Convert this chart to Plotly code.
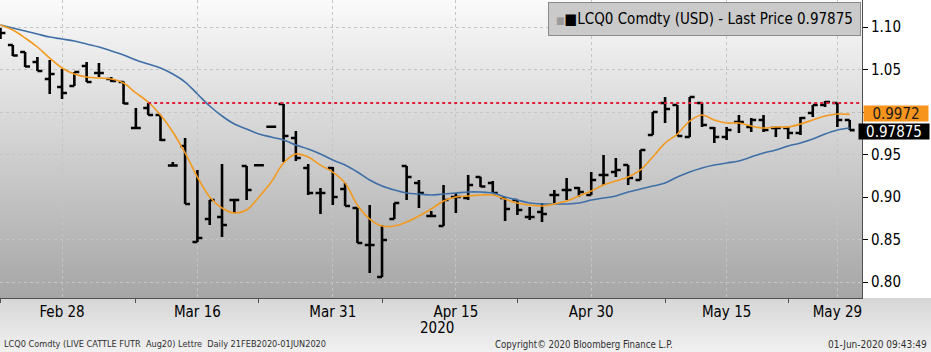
import base64
import struct
import zlib
import plotly.graph_objects as go

# ---------------- data ----------------
dates = [
    "2020-02-21", "2020-02-24", "2020-02-25", "2020-02-26", "2020-02-27", "2020-02-28",
    "2020-03-02", "2020-03-03", "2020-03-04", "2020-03-05", "2020-03-06",
    "2020-03-09", "2020-03-10", "2020-03-11", "2020-03-12", "2020-03-13",
    "2020-03-16", "2020-03-17", "2020-03-18", "2020-03-19", "2020-03-20",
    "2020-03-23", "2020-03-24", "2020-03-25", "2020-03-26", "2020-03-27",
    "2020-03-30", "2020-03-31", "2020-04-01", "2020-04-02", "2020-04-03",
    "2020-04-06", "2020-04-07", "2020-04-08", "2020-04-09",
    "2020-04-13", "2020-04-14", "2020-04-15", "2020-04-16", "2020-04-17",
    "2020-04-20", "2020-04-21", "2020-04-22", "2020-04-23", "2020-04-24",
    "2020-04-27", "2020-04-28", "2020-04-29", "2020-04-30", "2020-05-01",
    "2020-05-04", "2020-05-05", "2020-05-06", "2020-05-07", "2020-05-08",
    "2020-05-11", "2020-05-12", "2020-05-13", "2020-05-14", "2020-05-15",
    "2020-05-18", "2020-05-19", "2020-05-20", "2020-05-21", "2020-05-22",
    "2020-05-26", "2020-05-27", "2020-05-28", "2020-05-29", "2020-06-01",
]

open_ = [1.0976, 1.0788, 1.0706, 1.0588, 1.0388, 1.0294, 1.0306, 1.0541, 1.0459, 1.0388,
         1.0353, 0.9812, 1.0047, 0.9965, 0.9371, 0.9600, 0.8471, 0.8741, 0.8765, 0.8965,
         0.9365, 0.9373, 0.9827, 1.0094, 0.9694, 0.9341, 0.9047, 0.9341, 0.9094, 0.8871,
         0.8435, 0.8059, 0.8741, 0.9365, 0.9165, 0.8776, 0.8659, 0.9000, 0.8988, 0.9235,
         0.9165, 0.8988, 0.8965, 0.8765, 0.8824, 0.9024, 0.9082, 0.9106, 0.9024, 0.9259,
         0.9294, 0.9376, 0.9200, 0.9729, 1.0106, 1.0082, 0.9706, 1.0106, 0.9812, 0.9706,
         0.9882, 0.9824, 0.9906, 0.9812, 0.9812, 0.9753, 0.9988, 1.0082, 1.0106, 0.9906]
high = [1.0990, 1.0788, 1.0706, 1.0647, 1.0612, 1.0506, 1.0471, 1.0588, 1.0576, 1.0412,
        1.0359, 1.0047, 1.0106, 0.9965, 0.9412, 0.9694, 0.9318, 0.8965, 0.9388, 0.8965,
        0.9365, 0.9373, 0.9827, 1.0094, 0.9776, 0.9388, 0.9106, 0.9353, 0.9165, 0.8871,
        0.8906, 0.8671, 0.8929, 0.9365, 0.9200, 0.8835, 0.9141, 0.9047, 0.9259, 0.9239,
        0.9188, 0.8988, 0.8965, 0.8882, 0.8929, 0.9082, 0.9224, 0.9118, 0.9294, 0.9494,
        0.9459, 0.9376, 0.9553, 1.0000, 1.0176, 1.0082, 1.0176, 1.0106, 0.9824, 0.9824,
        0.9965, 0.9929, 0.9965, 0.9824, 0.9824, 0.9941, 1.0082, 1.0129, 1.0106, 0.9906]
low = [1.0859, 1.0659, 1.0529, 1.0482, 1.0212, 1.0153, 1.0306, 1.0353, 1.0412, 1.0353,
       1.0094, 0.9812, 0.9965, 0.9659, 0.9365, 0.8918, 0.8471, 0.8671, 0.8529, 0.8812,
       0.8965, 0.9373, 0.9827, 0.9412, 0.9424, 0.9024, 0.8800, 0.8906, 0.8894, 0.8459,
       0.8106, 0.8059, 0.8741, 0.8965, 0.8871, 0.8776, 0.8659, 0.8812, 0.8965, 0.9118,
       0.9047, 0.8718, 0.8788, 0.8729, 0.8706, 0.8929, 0.8965, 0.9000, 0.9024, 0.9141,
       0.9235, 0.9141, 0.9200, 0.9729, 0.9871, 0.9718, 0.9706, 0.9824, 0.9635, 0.9671,
       0.9753, 0.9765, 0.9765, 0.9706, 0.9682, 0.9729, 0.9941, 1.0059, 0.9824, 0.97875]
close = [1.0929, 1.0665, 1.0535, 1.0482, 1.0447, 1.0224, 1.0471, 1.0353, 1.0459, 1.0365,
         1.0100, 0.9812, 0.9965, 0.9671, 0.9371, 0.8918, 0.8518, 0.8965, 0.8671, 0.8965,
         0.9082, 0.9373, 0.9827, 0.9718, 0.9459, 0.9047, 0.9047, 0.9000, 0.8894, 0.8459,
         0.8435, 0.8494, 0.8929, 0.9235, 0.9047, 0.8776, 0.8965, 0.9000, 0.9141, 0.9124,
         0.9047, 0.8859, 0.8847, 0.8765, 0.8800, 0.9024, 0.9082, 0.9059, 0.9200, 0.9259,
         0.9318, 0.9224, 0.9553, 1.0000, 1.0035, 0.9718, 1.0176, 0.9847, 0.9706, 0.9788,
         0.9882, 0.9906, 0.9788, 0.9812, 0.9753, 0.9929, 1.0082, 1.0118, 0.9906, 0.97875]

ma_fast = [1.1024, 1.0965, 1.0871, 1.0765, 1.0635, 1.0518, 1.0447, 1.0412, 1.0400, 1.0388,
           1.0341, 1.0224, 1.0118, 0.9965, 0.9765, 0.9518, 0.9235, 0.9000, 0.8871, 0.8812,
           0.8847, 0.9000, 0.9176, 0.9400, 0.9506, 0.9471, 0.9376, 0.9294, 0.9165, 0.8906,
           0.8741, 0.8659, 0.8659, 0.8706, 0.8776, 0.8859, 0.8953, 0.9000, 0.9012, 0.9024,
           0.9024, 0.8976, 0.8929, 0.8906, 0.8894, 0.8918, 0.8953, 0.9012, 0.9071, 0.9141,
           0.9188, 0.9235, 0.9318, 0.9471, 0.9635, 0.9741, 0.9894, 0.9965, 0.9906, 0.9871,
           0.9871, 0.9835, 0.9812, 0.9824, 0.9824, 0.9859, 0.9906, 0.9953, 0.9976, 0.9972]
ma_slow = [1.1024, 1.0988, 1.0953, 1.0918, 1.0882, 1.0859, 1.0835, 1.0800, 1.0765, 1.0718,
           1.0671, 1.0612, 1.0565, 1.0518, 1.0447, 1.0353, 1.0212, 1.0071, 0.9953, 0.9859,
           0.9800, 0.9741, 0.9706, 0.9671, 0.9612, 0.9565, 0.9506, 0.9435, 0.9376, 0.9294,
           0.9200, 0.9129, 0.9082, 0.9047, 0.9035, 0.9024, 0.9035, 0.9047, 0.9059, 0.9059,
           0.9047, 0.9000, 0.8965, 0.8929, 0.8918, 0.8918, 0.8918, 0.8929, 0.8965, 0.8988,
           0.9012, 0.9059, 0.9094, 0.9129, 0.9165, 0.9235, 0.9294, 0.9341, 0.9376, 0.9400,
           0.9424, 0.9471, 0.9518, 0.9553, 0.9600, 0.9635, 0.9682, 0.9741, 0.9788, 0.9812]

tick_dates = ["2020-02-28", "2020-03-16", "2020-03-31", "2020-04-15",
              "2020-04-30", "2020-05-15", "2020-05-29"]
tick_labels = ["Feb 28", "Mar 16", "Mar 31", "Apr 15", "Apr 30", "May 15", "May 29"]
minor_tick_dates = ["2020-02-21", "2020-03-09", "2020-03-23", "2020-04-06",
                    "2020-04-22", "2020-05-08", "2020-05-22"]
y_ticks = [0.80, 0.85, 0.90, 0.95, 1.00, 1.05, 1.10]
# the 1.00 label sits behind the moving-average price tag in the original
y_tick_labels = ["0.80", "0.85", "0.90", "0.95", "", "1.05", "1.10"]

resistance_level = 1.0106
resistance_start = "2020-03-10"
last_price = 0.97875
last_ma_fast = 0.9972

legend_text = "LCQ0 Comdty (USD) - Last Price 0.97875"
footer_left = "LCQ0 Comdty (LIVE CATTLE FUTR  Aug20) Lettre  Daily 21FEB2020-01JUN2020"
footer_mid = "Copyright\u00a9 2020 Bloomberg Finance L.P."
footer_right = "01-Jun-2020 09:43:49"
year_label = "2020"

# ---------------- helpers ----------------
def gradient_png(top, bottom, h):
    rows = b"".join(b"\x00" + bytes([round(top + (bottom - top) * i / (h - 1))]) for i in range(h))

    def chunk(t, d):
        return struct.pack(">I", len(d)) + t + d + struct.pack(">I", zlib.crc32(t + d) & 0xFFFFFFFF)

    png = (b"\x89PNG\r\n\x1a\n"
           + chunk(b"IHDR", struct.pack(">IIBBBBB", 1, h, 8, 0, 0, 0, 0))
           + chunk(b"IDAT", zlib.compress(rows))
           + chunk(b"IEND", b""))
    return "data:image/png;base64," + base64.b64encode(png).decode()


FONT = "DejaVu Sans Condensed, DejaVu Sans, sans-serif"
W, H = 931, 352
ML, MR, MT, MB = 0, 69, 0, 54
PW, PH = W - ML - MR, H - MT - MB

xs = list(range(len(dates)))
x_range = [-0.04, len(dates)]
y_range = [0.7812, 1.1318]

fig = go.Figure()

fig.add_trace(go.Scatter(x=xs, y=ma_slow, mode="lines", line=dict(color="#3F6FA6", width=1.6, shape="spline"),
                         hoverinfo="skip", showlegend=False))
fig.add_trace(go.Scatter(x=xs, y=ma_fast, mode="lines", line=dict(color="#F39A1E", width=1.6, shape="spline"),
                         hoverinfo="skip", showlegend=False))
fig.add_trace(go.Ohlc(x=xs, open=open_, high=high, low=low, close=close,
                      increasing=dict(line=dict(color="black", width=2.6)),
                      decreasing=dict(line=dict(color="black", width=2.6)),
                      tickwidth=0.4, hoverinfo="skip", showlegend=False))
# invisible trace anchoring the minor-tick axis
fig.add_trace(go.Scatter(x=[xs[0]], y=[y_ticks[0]], xaxis="x2", mode="markers",
                         marker=dict(opacity=0), hoverinfo="skip", showlegend=False))

fig.add_shape(type="line", xref="x", yref="y",
              x0=dates.index(resistance_start), x1=x_range[1],
              y0=resistance_level, y1=resistance_level,
              line=dict(color="#E0203A", width=2, dash="dot"), layer="above")

ann = []
ann.append(dict(text="<span style='color:#9a9a9a;font-size:10px'>\u25a0</span>\u25a0" + legend_text,
                xref="paper", yref="paper", x=1, y=1, xanchor="right", yanchor="top",
                yshift=-2, xshift=-1, showarrow=False,
                font=dict(family=FONT, size=15, color="black"),
                bgcolor="#CACACA", bordercolor="#8a8a8a", borderwidth=1, borderpad=7))
ann.append(dict(text=f"{last_ma_fast:.4f}", xref="paper", yref="y", x=1, y=last_ma_fast,
                xanchor="left", yanchor="middle", xshift=1, yshift=1, showarrow=False,
                width=64, height=15, align="center",
                font=dict(family=FONT, size=15, color="#1a1a1a"),
                bgcolor="#F7941D", borderpad=0))
ann.append(dict(text=f"{last_price:.5f}", xref="paper", yref="y", x=1, y=last_price,
                xanchor="left", yanchor="middle", xshift=-4, yshift=-1, showarrow=False,
                width=70, height=15, align="center",
                font=dict(family=FONT, size=15, color="white"),
                bgcolor="black", borderpad=0))
ann.append(dict(text=year_label, xref="x", yref="paper", x=dates.index("2020-04-15"), y=-30 / PH,
                xanchor="center", yanchor="middle", xshift=-19, showarrow=False,
                font=dict(family=FONT, size=15, color="black")))
ann.append(dict(text=footer_left, xref="paper", yref="paper", x=2 / PW, y=-46 / PH,
                xanchor="left", yanchor="middle", showarrow=False,
                font=dict(family=FONT, size=9.1, color="#303030")))
ann.append(dict(text=footer_mid, xref="paper", yref="paper", x=584 / PW, y=-46 / PH,
                xanchor="center", yanchor="middle", showarrow=False,
                font=dict(family=FONT, size=9.6, color="#303030")))
ann.append(dict(text=footer_right, xref="paper", yref="paper", x=929 / PW, y=-46 / PH,
                xanchor="right", yanchor="middle", showarrow=False,
                font=dict(family=FONT, size=10, color="#303030")))

images = [
    dict(source=gradient_png(250, 166, 298), xref="paper", yref="paper", x=0, y=1,
         sizex=1, sizey=1, sizing="stretch", xanchor="left", yanchor="top", layer="below"),
    dict(source=gradient_png(214, 240, 54), xref="paper", yref="paper", x=0, y=0,
         sizex=W / PW, sizey=MB / PH, sizing="stretch", xanchor="left", yanchor="top", layer="below"),
]

fig.update_layout(
    width=W, height=H,
    margin=dict(l=ML, r=MR, t=MT, b=MB, pad=0),
    paper_bgcolor="white",
    plot_bgcolor="rgba(0,0,0,0)",
    font=dict(family=FONT, size=15, color="black"),
    images=images,
    annotations=ann,
    showlegend=False,
    xaxis=dict(range=x_range, tickvals=[dates.index(d) for d in tick_dates], ticktext=tick_labels,
               showgrid=True, gridcolor="#C4C4C4", griddash="dot", gridwidth=1,
               ticks="", showline=True, linecolor="#505050", linewidth=1,
               zeroline=False, rangeslider=dict(visible=False), fixedrange=True,
               tickfont=dict(family=FONT, size=15, color="black")),
    xaxis2=dict(range=x_range, overlaying="x", anchor="y", side="bottom",
                tickvals=[dates.index(d) for d in minor_tick_dates], showticklabels=False,
                ticks="outside", ticklen=4, tickcolor="#505050", showgrid=False,
                zeroline=False, showline=False, fixedrange=True),
    yaxis=dict(range=y_range, side="right", tickvals=y_ticks, ticktext=y_tick_labels,
               showgrid=True, gridcolor="#C4C4C4", griddash="dot", gridwidth=1,
               ticks="outside", ticklen=5, tickcolor="black", showline=True, linecolor="#505050",
               linewidth=1, zeroline=False, fixedrange=True,
               tickfont=dict(family=FONT, size=15, color="black")),
)

fig.write_html("out.html")
